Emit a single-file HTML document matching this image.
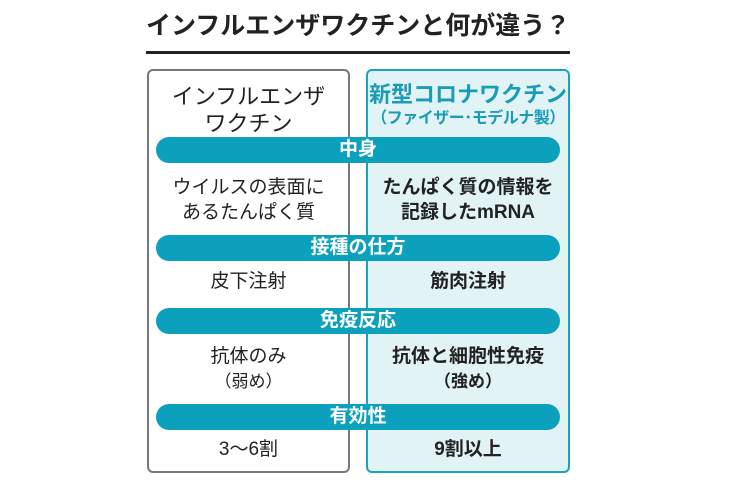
<!DOCTYPE html>
<html><head><meta charset="utf-8"><style>
body{margin:0;width:734px;height:487px;background:#fff;position:relative;overflow:hidden;font-family:"Liberation Sans","Noto Sans CJK JP",sans-serif;color:#222}
.a{position:absolute}
.t{position:absolute;text-align:center;white-space:nowrap;line-height:1}
.bar{position:absolute;left:156px;width:404px;height:26px;border-radius:13px;background:#0ba1bd;color:#fff;font-weight:bold;font-size:19px;text-align:center;line-height:26px}
</style></head><body>
<div class="t" style="left:146px;width:424px;top:14px;font-size:25px;font-weight:bold;color:#222">インフルエンザワクチンと何が違う？</div>
<div class="a" style="left:146px;top:51px;width:424px;height:3px;background:#222"></div>
<div class="a" style="left:147px;top:69px;width:199px;height:400px;border:2px solid #777;border-radius:6px"></div>
<div class="a" style="left:366px;top:69px;width:200px;height:400px;border:2px solid #1aa3be;border-radius:6px;background:#e2f3f6"></div>
<div class="t" style="left:149px;width:199px;top:83px;font-size:22px;line-height:27px">インフルエンザ<br>ワクチン</div>
<div class="t" style="left:368px;width:200px;top:84px;font-size:22px;font-weight:bold;color:#1a9bb6">新型コロナワクチン</div>
<div class="t" style="left:368px;width:200px;top:111px;font-size:16px;letter-spacing:-0.5px;font-weight:bold;color:#1a9bb6">（ファイザー･モデルナ製）</div>
<div class="bar" style="top:137px">中身</div>
<div class="t" style="left:149px;width:199px;top:175px;font-size:19px;line-height:25px">ウイルスの表面に<br>あるたんぱく質</div>
<div class="t" style="left:368px;width:200px;top:175px;font-size:19px;line-height:25px;font-weight:bold">たんぱく質の情報を<br>記録したmRNA</div>
<div class="bar" style="top:235px">接種の仕方</div>
<div class="t" style="left:149px;width:199px;top:272px;font-size:19px">皮下注射</div>
<div class="t" style="left:368px;width:200px;top:272px;font-size:19px;font-weight:bold">筋肉注射</div>
<div class="bar" style="top:308px">免疫反応</div>
<div class="t" style="left:149px;width:199px;top:344px;font-size:19px;line-height:25px">抗体のみ<br><span style="font-size:17px">（弱め）</span></div>
<div class="t" style="left:368px;width:200px;top:344px;font-size:19px;line-height:25px;font-weight:bold">抗体と細胞性免疫<br><span style="font-size:17px">（強め）</span></div>
<div class="bar" style="top:404px">有効性</div>
<div class="t" style="left:149px;width:199px;top:440px;font-size:19px">3〜6割</div>
<div class="t" style="left:368px;width:200px;top:440px;font-size:19px;font-weight:bold">9割以上</div>
</body></html>
